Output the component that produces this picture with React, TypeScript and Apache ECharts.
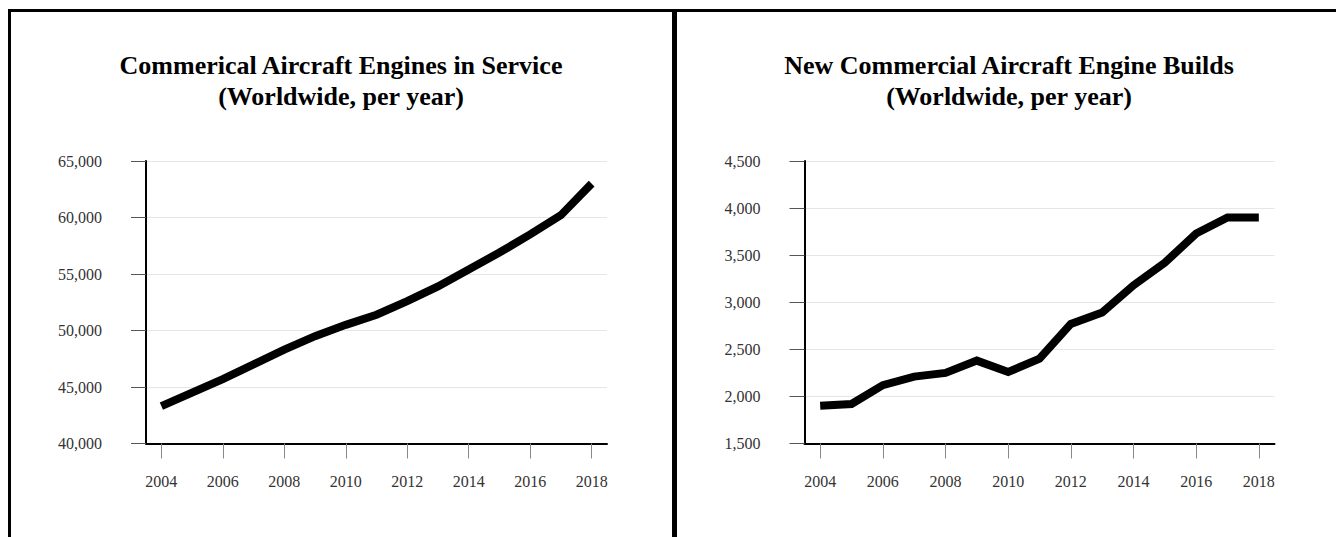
import React, { useEffect, useRef } from "react";
import * as echarts from "echarts";

const years = ["2004","2005","2006","2007","2008","2009","2010","2011","2012","2013","2014","2015","2016","2017","2018"];
const enginesInService = [43300, 44500, 45700, 47000, 48300, 49500, 50500, 51400, 52600, 53900, 55400, 56900, 58500, 60200, 63000];
const newEngineBuilds = [1900, 1920, 2120, 2210, 2250, 2380, 2260, 2400, 2770, 2890, 3180, 3420, 3730, 3900, 3900];
const leftTitle = "Commerical Aircraft Engines in Service\n(Worldwide, per year)";
const rightTitle = "New Commercial Aircraft Engine Builds\n(Worldwide, per year)";
const leftRange = { min: 40000, max: 65000, interval: 5000 };
const rightRange = { min: 1500, max: 4500, interval: 500 };

const FONT = "'Liberation Serif', 'Times New Roman', serif";

function xAxis(gridIndex: number) {
  return {
    type: "category",
    gridIndex,
    data: years,
    boundaryGap: true,
    axisLine: { show: true, lineStyle: { color: "#000", width: 2 } },
    axisTick: { show: true, alignWithLabel: true, interval: 1, length: 15, lineStyle: { color: "#888", width: 1 } },
    axisLabel: { interval: 1, margin: 30, color: "#333", fontFamily: FONT, fontSize: 16 },
    splitLine: { show: false },
  };
}

function yAxis(gridIndex: number, r: { min: number; max: number; interval: number }) {
  return {
    type: "value",
    gridIndex,
    min: r.min,
    max: r.max,
    interval: r.interval,
    axisLine: { show: true, lineStyle: { color: "#000", width: 2 } },
    axisTick: { show: true, length: 15, lineStyle: { color: "#555", width: 1 } },
    axisLabel: {
      margin: 44,
      color: "#333",
      fontFamily: FONT,
      fontSize: 16,
      formatter: (v: number) => v.toLocaleString("en-US"),
    },
    splitLine: { show: true, lineStyle: { color: "#e6e6e6", width: 1 } },
  };
}

function lineSeries(idx: number, data: number[]) {
  return {
    type: "line",
    xAxisIndex: idx,
    yAxisIndex: idx,
    data,
    symbol: "none",
    lineStyle: { color: "#000", width: 8, cap: "butt", join: "miter" },
  };
}

export default function App() {
  const ref = useRef<HTMLDivElement>(null);
  useEffect(() => {
    if (!ref.current) return;
    const chart = echarts.init(ref.current, undefined, { renderer: "svg" });
    const titleStyle = {
      color: "#000",
      fontFamily: FONT,
      fontSize: 26,
      fontWeight: "bold",
      lineHeight: 31,
    };
    chart.setOption({
      animation: false,
      title: [
        { text: leftTitle, left: 341, top: 50, textAlign: "center", textStyle: titleStyle, padding: 0 },
        { text: rightTitle, left: 1009, top: 50, textAlign: "center", textStyle: titleStyle, padding: 0 },
      ],
      grid: [
        { left: 146, top: 161, width: 461, height: 282.5 },
        { left: 804.5, top: 161, width: 470, height: 282.5 },
      ],
      xAxis: [xAxis(0), xAxis(1)],
      yAxis: [yAxis(0, leftRange), yAxis(1, rightRange)],
      series: [lineSeries(0, enginesInService), lineSeries(1, newEngineBuilds)],
    });
    return () => chart.dispose();
  }, []);

  return (
    <>
      <div style={{ position: "fixed", left: 8, top: 9, width: 1328, height: 528, overflow: "hidden", background: "#fff" }}>
        <div style={{ position: "absolute", left: 0, top: 0, width: 667, height: 700, boxSizing: "border-box", border: "3px solid #000" }} />
        <div style={{ position: "absolute", left: 667, top: 0, width: 667, height: 700, boxSizing: "border-box", borderTop: "3px solid #000", borderLeft: "2px solid #000", borderRight: "3px solid #000" }} />
      </div>
      <div ref={ref} style={{ position: "fixed", left: 0, top: 0, width: 1336, height: 537 }} />
    </>
  );
}
